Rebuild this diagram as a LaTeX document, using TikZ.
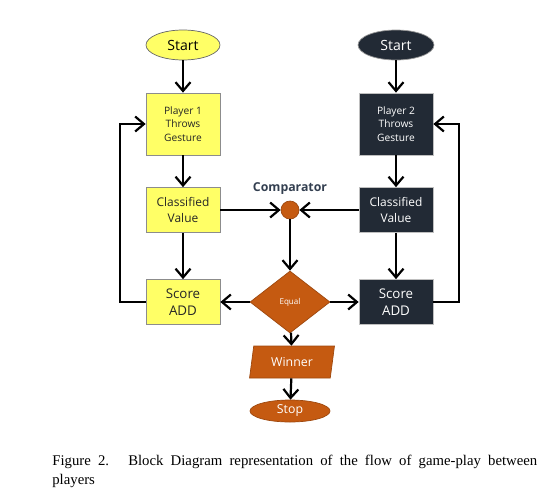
\documentclass[tikz,border=0pt]{standalone}
\usepackage{fontspec}
\setmainfont{Liberation Serif}
\newfontfamily\diagfont{Open Sans}
\usepackage{xcolor}
\usepackage{tikz}
\usetikzlibrary{arrows.meta, positioning, calc, shapes.geometric}

\definecolor{pyellow}{HTML}{FFFF66}
\definecolor{pnavy}{HTML}{222A35}
\definecolor{porange}{HTML}{C55A11}
\definecolor{ptext}{HTML}{333F50}

\begin{document}
\begin{tikzpicture}[
					x=0.02cm, y=-0.02cm,
					ybox/.style={rectangle, draw=black!45, fill=pyellow, text=black!85,
						minimum width=1.48cm, align=center, inner sep=1pt, font=\diagfont},
					nbox/.style={rectangle, draw=black!25, fill=pnavy, text=white,
						minimum width=1.48cm, align=center, inner sep=1pt, font=\diagfont},
					oshape/.style={draw=porange!80!black, fill=porange, text=white, inner sep=0pt, font=\diagfont},
					arrow/.style={-{Straight Barb[length=5pt,width=8.5pt]}, line width=1.25pt, black},
					]
					\useasboundingbox (0,0) rectangle (543,490);
					% --- Left: Player 1 (x=183) ---
					\node[ellipse, draw=black!60, fill=pyellow, minimum width=1.48cm, minimum height=0.6cm,
						inner sep=0pt, font=\diagfont\fontsize{8}{9}\selectfont] (startA) at (183,45) {Start};
					\node[ybox, minimum height=1.24cm, font=\diagfont\fontsize{5.8}{7.8}\selectfont] (playerA) at (183,124) {Player 1\\ Throws\\ Gesture};
					\node[ybox, minimum height=0.9cm, font=\diagfont\fontsize{6.8}{9}\selectfont] (classA) at (183,210) {Classified\\ Value};
					\node[ybox, minimum height=0.9cm, font=\diagfont\fontsize{7.6}{9.6}\selectfont] (scoreA) at (183,302) {Score\\ ADD};
					\draw[arrow] (startA) -- (playerA);
					\draw[arrow] (playerA) -- (classA);
					\draw[arrow] (classA) -- (scoreA);
					\draw[arrow] (scoreA.west) -- ++(-26,0) |- (playerA.west);
					
					% --- Right: Player 2 (x=396) ---
					\node[ellipse, draw=black!40, fill=pnavy, text=white, minimum width=1.52cm, minimum height=0.6cm,
						inner sep=0pt, font=\diagfont\fontsize{8}{9}\selectfont] (startB) at (396,45) {Start};
					\node[nbox, minimum height=1.24cm, font=\diagfont\fontsize{5.8}{7.8}\selectfont] (playerB) at (396,124) {Player 2\\ Throws\\ Gesture};
					\node[nbox, minimum height=0.9cm, font=\diagfont\fontsize{6.8}{9}\selectfont] (classB) at (396,210) {Classified\\ Value};
					\node[nbox, minimum height=0.9cm, font=\diagfont\fontsize{7.6}{9.6}\selectfont] (scoreB) at (396,302) {Score\\ ADD};
					\draw[arrow] (startB) -- (playerB);
					\draw[arrow] (playerB) -- (classB);
					\draw[arrow] (classB) -- (scoreB);
					\draw[arrow] (scoreB.east) -- ++(26,0) |- (playerB.east);
					
					% --- Middle: comparator and result (x=290) ---
					\node[circle, oshape, minimum size=0.36cm] (comp) at (290,210) {};
					\node[font=\diagfont\bfseries\fontsize{7}{8}\selectfont, text=ptext] (complabel) at (290,189) {Comparator};
					\node[diamond, oshape, minimum width=1.6cm, minimum height=1.24cm,
						font=\diagfont\fontsize{4.6}{5}\selectfont] (equal) at (290,302) {Equal};
					\node[trapezium, oshape, trapezium left angle=76, trapezium right angle=104, trapezium stretches=true,
						minimum width=1.7cm, minimum height=0.64cm, font=\diagfont\fontsize{7}{8}\selectfont] (winner) at (292,362) {Winner};
					\node[ellipse, oshape, minimum width=1.6cm, minimum height=0.44cm,
						font=\diagfont\fontsize{7}{8}\selectfont] (stop) at (290,411) {Stop};
					\draw[arrow] (classA) -- (comp);
					\draw[arrow] (classB) -- (comp);
					\draw[arrow] (comp) -- (equal);
					\draw[arrow] (equal) -- (scoreA);
					\draw[arrow] (equal) -- (scoreB);
					\draw[arrow] (equal) -- (winner);
					\draw[arrow] (winner) -- (stop);
					
					% --- Caption ---
					\node[anchor=north west, text width=9.7cm, align=justify, inner sep=0pt,
						font=\fontsize{8.4}{10.6}\selectfont] (caption) at (52,455)
						{Figure 2.\hspace{1.3em}Block Diagram representation of the flow of game-play between\linebreak players};
				\end{tikzpicture}
\end{document}
